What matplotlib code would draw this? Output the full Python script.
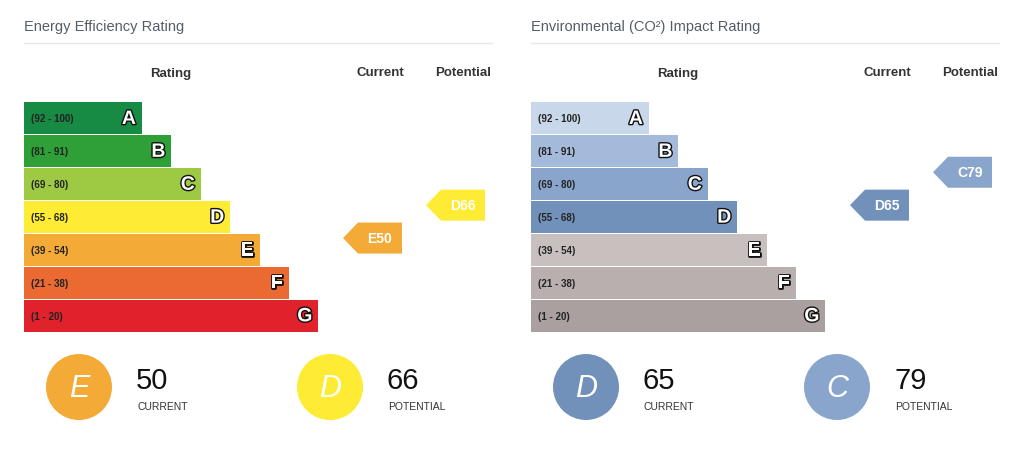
import matplotlib
matplotlib.use("Agg")
import matplotlib.pyplot as plt
import matplotlib.patheffects as pe
from matplotlib.patches import Polygon, Circle

plt.rcParams['font.family'] = ['Liberation Sans', 'DejaVu Sans']

# data
bands = ["A", "B", "C", "D", "E", "F", "G"]
band_ranges = ["(92 - 100)", "(81 - 91)", "(69 - 80)", "(55 - 68)",
               "(39 - 54)", "(21 - 38)", "(1 - 20)"]
band_lower = [92, 81, 69, 55, 39, 21, 1]
ee_colors = ["#178a43", "#2f9f37", "#9dc943", "#fdec33",
             "#f3aa37", "#ea6a31", "#e0222c"]
co2_colors = ["#c8d7ea", "#a4bada", "#8aa5cb", "#7291ba",
              "#c7c0be", "#b8afae", "#aaa09f"]
panel_titles = ["Energy Efficiency Rating", "Environmental (CO²) Impact Rating"]
ee_scores = [50, 66]    # current, potential
co2_scores = [65, 79]


def band_of(score):
    for b, lo in zip(bands, band_lower):
        if score >= lo:
            return b
    return bands[-1]


fig = plt.figure(figsize=(10.24, 4.61), dpi=100)
ax = fig.add_axes([0, 0, 1, 1])
ax.set_xlim(0, 1024)
ax.set_ylim(461, 0)
ax.axis("off")

top, row_h = 102, 32.9
centers = [top + row_h * (i + 0.5) for i in range(7)]
widths = [118 + 29.4 * i for i in range(7)]


def panel(x0, title, colors, scores):
    ax.text(x0, 26.5, title, fontsize=10.5, color="#555d68", va="center")
    ax.plot([x0, x0 + 468], [43, 43], color="#e8e8e8", lw=1)
    for hx, h in zip([147, 356, 439], ["Rating", "Current", "Potential"]):
        ax.text(x0 + hx, 73.5, h, fontsize=9.5, fontweight="bold", color="#333",
                ha="center", va="center")

    ax.barh(centers, widths, height=row_h - 0.8, left=x0, color=colors)
    for c, w, b, r in zip(centers, widths, bands, band_ranges):
        ax.text(x0 + 7, c + 1, r, fontsize=7, fontweight="bold", color="#222", va="center")
        ax.text(x0 + w - 6, c + 1, b, fontsize=14, fontweight="bold", color="white",
                ha="right", va="center",
                path_effects=[pe.withStroke(linewidth=2, foreground="#111")])

    # arrows in Current / Potential columns
    for col_x, s in zip([x0 + 319, x0 + 402], scores):
        b = band_of(s)
        i = bands.index(b)
        yc = centers[i] - 12
        h = 15.5
        poly = Polygon([(col_x, yc), (col_x + 15, yc - h), (col_x + 59, yc - h),
                        (col_x + 59, yc + h), (col_x + 15, yc + h)],
                       closed=True, color=colors[i], lw=0)
        ax.add_patch(poly)
        ax.text(col_x + 37, yc + 1, f"{b}{s}", fontsize=10, fontweight="bold",
                color="white", ha="center", va="center")

    # summary circles
    for cx, s, lab in zip([x0 + 55, x0 + 306], scores, ["CURRENT", "POTENTIAL"]):
        b = band_of(s)
        i = bands.index(b)
        ax.add_patch(Circle((cx, 387), 33, color=colors[i], lw=0))
        ax.text(cx, 389, b, fontsize=22, style="italic", color="white",
                ha="center", va="center")
        ax.text(cx + 57, 381, str(s), fontsize=21, color="#111", va="center")
        ax.text(cx + 58, 406.5, lab, fontsize=7.5, color="#333", va="center")


panel(24, panel_titles[0], ee_colors, ee_scores)
panel(531, panel_titles[1], co2_colors, co2_scores)

fig.savefig("out.png", dpi=100)
